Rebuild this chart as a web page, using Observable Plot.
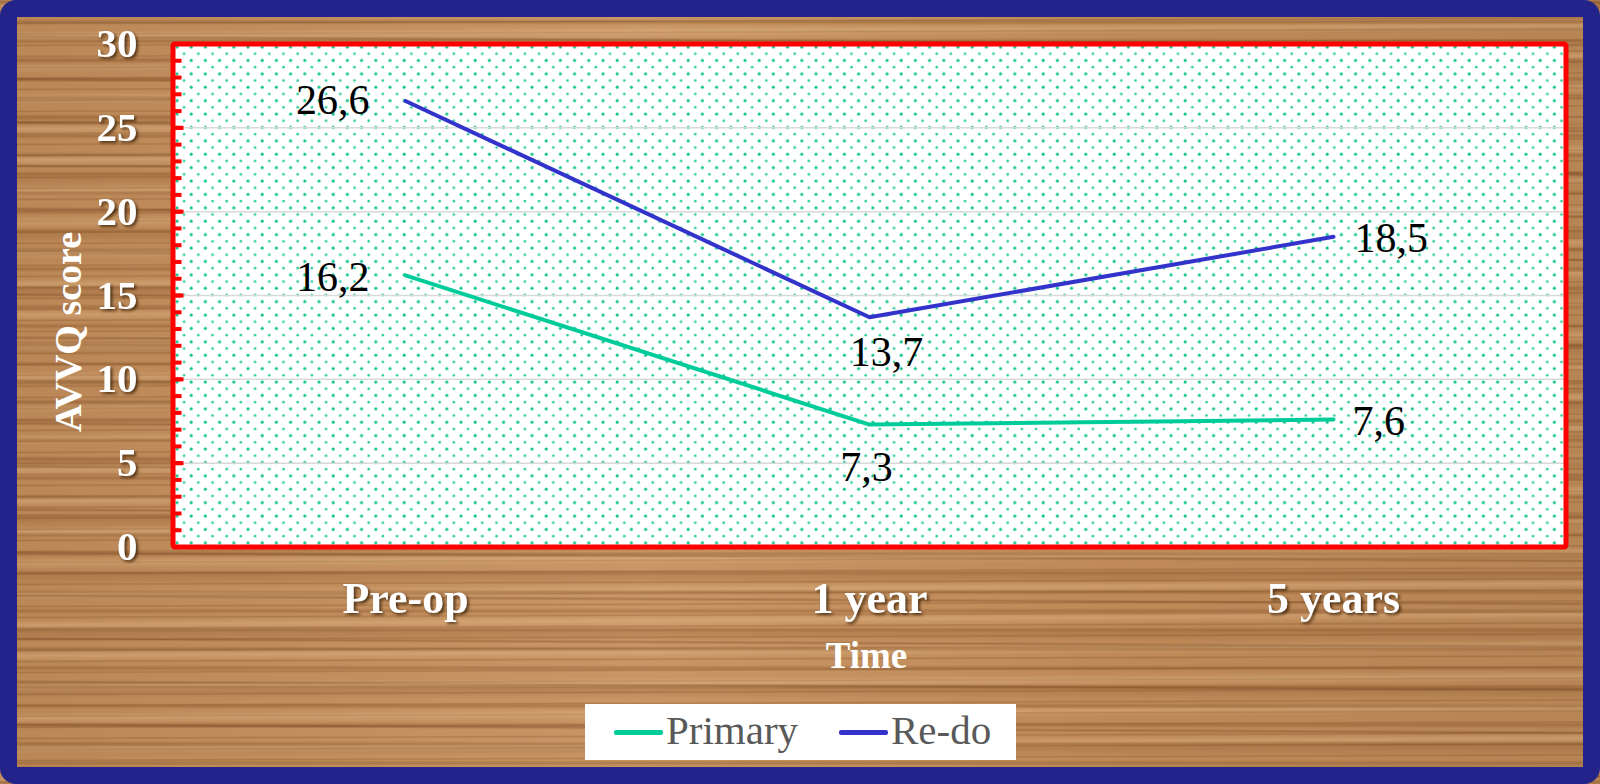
<!DOCTYPE html>
<html>
<head>
<meta charset="utf-8">
<script src="https://cdn.jsdelivr.net/npm/d3@7"></script>
<script src="https://cdn.jsdelivr.net/npm/@observablehq/plot@0.6"></script>
<style>
  html, body { margin: 0; padding: 0; overflow: hidden; }
  #page {
    position: relative; width: 1600px; height: 784px; overflow: hidden;
    background-color: #c68f5b;
    background-image:
      repeating-linear-gradient(180deg, rgba(110,60,20,0) 0px, rgba(110,60,20,0.30) 3px, rgba(110,60,20,0) 6px, rgba(0,0,0,0) 19px),
      repeating-linear-gradient(179.6deg, rgba(255,222,175,0) 0px, rgba(255,222,175,0.22) 5px, rgba(255,222,175,0) 11px, rgba(0,0,0,0) 31px),
      repeating-linear-gradient(180.3deg, rgba(85,42,10,0) 0px, rgba(85,42,10,0.28) 2px, rgba(85,42,10,0) 4px, rgba(0,0,0,0) 43px),
      repeating-linear-gradient(180deg, rgba(120,70,30,0) 0px, rgba(120,70,30,0.18) 7px, rgba(120,70,30,0) 15px, rgba(0,0,0,0) 57px),
      repeating-linear-gradient(179.8deg, rgba(95,50,15,0) 0px, rgba(95,50,15,0.22) 1.5px, rgba(95,50,15,0) 3px, rgba(0,0,0,0) 11px),
      linear-gradient(90deg, rgba(0,0,0,0.06), rgba(255,255,255,0.06) 40%, rgba(0,0,0,0.04) 70%, rgba(0,0,0,0.08));
  }
  #chart { position: absolute; left: 0; top: 0; }
  #chart svg { background: transparent !important; overflow: visible; }
  #border {
    position: absolute; left: 0; top: 0; width: 1600px; height: 784px; box-sizing: border-box;
    border: 17px solid #23238b; border-radius: 16px; pointer-events: none;
  }
  g[aria-label="x-axis tick label"], g[aria-label="y-axis tick label"], g[aria-label="axis title"] {
    filter: drop-shadow(2px 2px 1.5px rgba(50,25,0,0.75));
  }
  #legend {
    position: absolute; left: 585px; top: 704px; width: 431px; height: 56px;
    background: #ffffff; font-family: "Liberation Serif", "Times New Roman", serif;
    font-size: 41px; color: #595959;
  }
  #legend .sw { position: absolute; top: 26px; width: 49px; height: 5px; border-radius: 2px; }
  #legend .lb { position: absolute; top: 2px; line-height: 48px; }
</style>
</head>
<body>
<div id="page">
  <div id="chart"></div>
  <div id="legend"></div>
  <div id="border"></div>
</div>
<script>
// ---- data ----
const times = ["Pre-op", "1 year", "5 years"];
const primary = [16.2, 7.3, 7.6];
const redo = [26.6, 13.7, 18.5];
const seriesNames = ["Primary", "Re-do"];
const seriesColors = ["#00cc99", "#3333cc"];
const yTicks = [0, 5, 10, 15, 20, 25, 30];
const yMinorTicks = d3.range(0, 31);
const yGrid = [5, 10, 15, 20, 25];
const xTitle = "Time";
const yTitle = "AVVQ score";

const rows = times.flatMap((t, i) => [
  {time: t, value: primary[i], series: seriesNames[0]},
  {time: t, value: redo[i], series: seriesNames[1]}
]);
const fmt = v => String(v).replace(".", ",");
const pick = (t, s) => rows.filter(r => r.time === t && r.series === s);

const labelStyle = {x: "time", y: "value", text: d => fmt(d.value), fontSize: 42, fill: "black", fontFamily: "Liberation Serif"};

const chart = Plot.plot({
  width: 1600,
  height: 784,
  marginLeft: 172.5,
  marginRight: 34.5,
  marginTop: 43.5,
  marginBottom: 237.5,
  style: {fontFamily: "Liberation Serif", background: "transparent"},
  x: {type: "point", domain: times, padding: 0.5},
  y: {domain: [0, 30]},
  color: {domain: seriesNames, range: seriesColors},
  marks: [
    Plot.frame({fill: "url(#dots)", stroke: "none"}),
    Plot.gridY(yGrid, {stroke: "#d9d9d9", strokeOpacity: 1, strokeWidth: 1.5}),
    Plot.lineY(rows, {x: "time", y: "value", stroke: "series", strokeWidth: 4}),
    // data labels
    Plot.text(pick("Pre-op", "Re-do"), {...labelStyle, textAnchor: "end", dx: -36, dy: 0}),
    Plot.text(pick("Pre-op", "Primary"), {...labelStyle, textAnchor: "end", dx: -36, dy: 2}),
    Plot.text(pick("1 year", "Re-do"), {...labelStyle, textAnchor: "middle", dx: 17, dy: 35}),
    Plot.text(pick("1 year", "Primary"), {...labelStyle, textAnchor: "middle", dx: -3, dy: 43}),
    Plot.text(pick("5 years", "Re-do"), {...labelStyle, textAnchor: "start", dx: 21, dy: 2}),
    Plot.text(pick("5 years", "Primary"), {...labelStyle, textAnchor: "start", dx: 19, dy: 2}),
    Plot.frame({stroke: "#ff0000", strokeWidth: 5, rx: 2}),
    // red inward ticks
    Plot.axisY(yMinorTicks, {tickSize: 9, insetLeft: 9, stroke: "#ff0000", strokeWidth: 4, fill: "none", label: null}),
    Plot.axisY(yTicks, {tickSize: 11, insetLeft: 11, stroke: "#ff0000", strokeWidth: 4, fill: "none", label: null}),
    // tick labels
    Plot.axisY(yTicks, {tickSize: 0, tickPadding: 35.5, fontSize: 41, fontWeight: "bold", fill: "white", label: null}),
    Plot.axisX({tickSize: 0, tickPadding: 35, fontSize: 44, fontWeight: "bold", fill: "white", label: null}),
    // axis titles
    Plot.text([xTitle], {text: d => d, frameAnchor: "bottom", lineAnchor: "bottom", dx: -3, dy: 120.5, fontSize: 37, fontWeight: "bold", fill: "white", ariaLabel: "axis title"}),
    Plot.text([yTitle], {text: d => d, frameAnchor: "left", rotate: -90, lineAnchor: "bottom", textAnchor: "middle", dx: -92, dy: 36.5, fontSize: 38, fontWeight: "bold", fill: "white", ariaLabel: "axis title"})
  ]
});

// dotted fill pattern for the plot area
const ns = "http://www.w3.org/2000/svg";
const defs = document.createElementNS(ns, "defs");
const pat = document.createElementNS(ns, "pattern");
pat.setAttribute("id", "dots");
pat.setAttribute("patternUnits", "userSpaceOnUse");
pat.setAttribute("width", "14.2");
pat.setAttribute("height", "13.4");
pat.setAttribute("x", "172.5");
pat.setAttribute("y", "43.5");
const bg = document.createElementNS(ns, "rect");
bg.setAttribute("width", "14.2"); bg.setAttribute("height", "13.4"); bg.setAttribute("fill", "#ffffff");
pat.appendChild(bg);
[[4, 3, 1.5, "#0fc48f"], [11.1, 9.7, 1.3, "#2ccd9f"]].forEach(([cx, cy, r, f]) => {
  const c = document.createElementNS(ns, "circle");
  c.setAttribute("cx", cx); c.setAttribute("cy", cy); c.setAttribute("r", r); c.setAttribute("fill", f);
  pat.appendChild(c);
});
defs.appendChild(pat);
chart.insertBefore(defs, chart.firstChild);
document.getElementById("chart").appendChild(chart);

// legend
const legend = document.getElementById("legend");
const legendPos = [{sw: 29, lb: 81}, {sw: 254, lb: 306}];
seriesNames.forEach((name, i) => {
  const sw = document.createElement("div");
  sw.className = "sw"; sw.style.left = legendPos[i].sw + "px"; sw.style.background = seriesColors[i];
  const lb = document.createElement("div");
  lb.className = "lb"; lb.style.left = legendPos[i].lb + "px"; lb.textContent = name;
  legend.appendChild(sw); legend.appendChild(lb);
});
</script>
</body>
</html>
